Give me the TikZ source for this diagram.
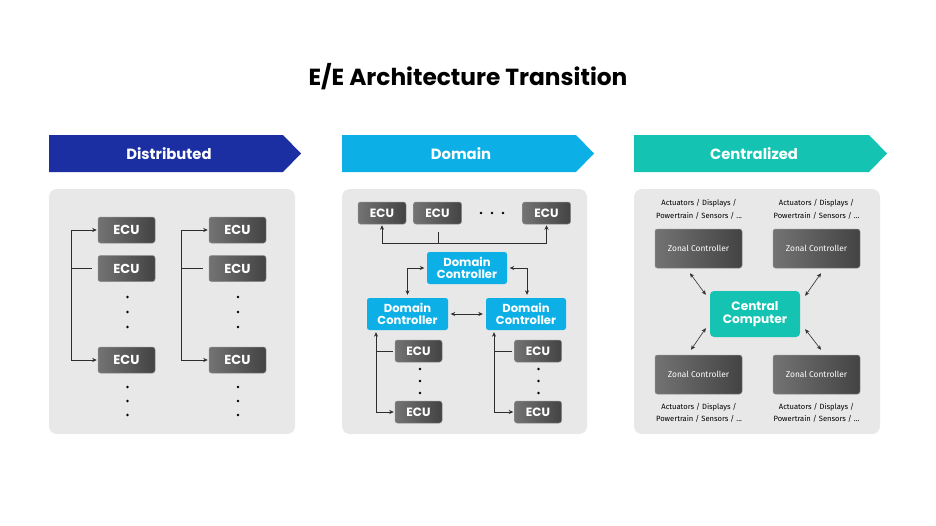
\documentclass[tikz,border=0pt]{standalone}
\usepackage{fontspec}
\setmainfont{Poppins}
\newfontfamily\smallsans{Fira Sans}
\usetikzlibrary{arrows.meta,calc}
\definecolor{bandA}{HTML}{1B2FA2}
\definecolor{bandB}{HTML}{0DB0E6}
\definecolor{bandC}{HTML}{14C3B1}
\definecolor{panelgray}{HTML}{E8E8E8}
\definecolor{ecuL}{HTML}{737373}
\definecolor{ecuR}{HTML}{434343}
\definecolor{ecuB}{HTML}{8A8A8A}
\definecolor{linegray}{HTML}{2E2E2E}
\tikzset{
  panel/.style={fill=panelgray, draw=none, rounded corners=8pt},
  bantext/.style={text=white, font=\bfseries\fontsize{14.8}{17}\selectfont, inner sep=0},
  ecu/.style={rounded corners=2.5pt, left color=ecuL, right color=ecuR, draw=ecuB, line width=0.5pt,
    minimum width=57, minimum height=26, inner sep=0, text=white, font=\bfseries\fontsize{13}{15}\selectfont},
  ecusm/.style={ecu, minimum width=47, minimum height=22, font=\bfseries\fontsize{12}{14}\selectfont},
  zonal/.style={ecu, minimum width=87, minimum height=39, font=\smallsans\fontsize{8.4}{10}\selectfont},
  dcbox/.style={rounded corners=2.5pt, fill=bandB, draw=none, minimum width=80, minimum height=32, inner sep=0,
    text=white, align=center, font=\bfseries\fontsize{11.6}{12}\selectfont},
  ccbox/.style={rounded corners=4pt, fill=bandC, draw=none, minimum width=90, minimum height=46, inner sep=0,
    text=white, align=center, font=\bfseries\fontsize{12.2}{13.5}\selectfont},
  conn/.style={draw=linegray, line width=0.6pt},
  bitip/.style={conn, {Stealth[length=4.5pt,width=4pt]}-{Stealth[length=4.5pt,width=4pt]}},
  dotc/.style={circle, fill=black, inner sep=0, minimum size=2.8pt},
  lbl/.style={font=\smallsans\fontsize{7.6}{12.5}\selectfont, inner sep=0, align=center, text=black},
}
\begin{document}
\begin{tikzpicture}[x=1pt,y=-1pt]
\useasboundingbox (0,0) rectangle (936,525);
\fill[white] (0,0) rectangle (936,525);

% title
\node[font=\bfseries\fontsize{23.3}{27}\selectfont, inner sep=0] (title) at (468,77) {E/E Architecture Transition};

% banners
\fill[bandA] (49,135) -- (283,135) -- (301,153.5) -- (283,172) -- (49,172) -- cycle;
\fill[bandB] (342,135) -- (576,135) -- (594,153.5) -- (576,172) -- (342,172) -- cycle;
\fill[bandC] (634,135) -- (869,135) -- (887,153.5) -- (869,172) -- (634,172) -- cycle;
\node[bantext] (bn1) at (169,153.5) {Distributed};
\node[bantext] (bn2) at (461,153.5) {Domain};
\node[bantext] (bn3) at (754,153.5) {Centralized};

% panels
\fill[panel] (49,189) rectangle (295,434);
\fill[panel] (342,189) rectangle (587,434);
\fill[panel] (634,189) rectangle (880,434);

% ---------- Distributed ----------
\node[ecu] (d1a) at (126.5,230) {ECU};
\node[ecu] (d1b) at (126.5,268.5) {ECU};
\node[ecu] (d1c) at (126.5,360) {ECU};
\node[ecu] (d2a) at (237.5,230) {ECU};
\node[ecu] (d2b) at (237.5,268.5) {ECU};
\node[ecu] (d2c) at (237.5,360) {ECU};
\coordinate (j1) at (71,0);
\coordinate (j2) at (181,0);
\draw[bitip, shorten <=1pt, shorten >=1pt] (d1a.west) -- (j1 |- d1a.west) -- (j1 |- d1c.west) -- (d1c.west);
\draw[conn] (j1 |- d1b.west) -- ($(d1b.west)+(-6,0)$);
\draw[bitip, shorten <=1pt, shorten >=1pt] (d2a.west) -- (j2 |- d2a.west) -- (j2 |- d2c.west) -- (d2c.west);
\draw[conn] (j2 |- d2b.west) -- ($(d2b.west)+(-6,0)$);
\foreach \yy [count=\i] in {297,312,327,387,401,415}{
  \node[dotc] (dl\i) at (127.5,\yy) {};
  \node[dotc] (dr\i) at (238,\yy) {};
}

% ---------- Domain ----------
\node[ecusm, minimum width=48] (e1) at (382,213) {ECU};
\node[ecusm, minimum width=48] (e2) at (437.5,213) {ECU};
\node[ecusm, minimum width=48] (e3) at (546.5,213) {ECU};
\foreach \xx [count=\i] in {481,492,503}{ \node[dotc] (ed\i) at (\xx,213) {}; }
\coordinate (bus) at (0,243);
\coordinate (busm) at (438,232);
\draw[bitip, shorten <=1pt, shorten >=1pt] (e1.south) -- (e1.south |- bus) -- (e3.south |- bus) -- (e3.south);
\draw[conn] (busm) -- (busm |- bus);

\node[dcbox] (dct) at (467,268) {Domain\\Controller};
\node[dcbox, minimum width=81] (dcl) at (407.5,314) {Domain\\Controller};
\node[dcbox] (dcr) at (526,314) {Domain\\Controller};
\draw[bitip, shorten <=2.5pt, shorten >=3pt] (dcl.east) -- (dcr.west);
\draw[bitip, shorten <=2.5pt, shorten >=3pt] (dct.west) -| (dcl.north);
\draw[bitip, shorten <=2.5pt, shorten >=3pt] (dct.east) -| ($(dcr.north)+(1,0)$);

\node[ecusm] (l1) at (418.5,351) {ECU};
\node[ecusm] (l2) at (418.5,412) {ECU};
\node[ecusm] (r1) at (538,351) {ECU};
\node[ecusm] (r2) at (538,412) {ECU};
\coordinate (jl) at (376,0);
\coordinate (jr) at (494,0);
\draw[bitip, shorten <=1pt, shorten >=2pt] (l2.west) -- (jl |- l2.west) -- (jl |- dcl.south);
\draw[conn] (jl |- l1.west) -- ($(l1.west)+(-2,0)$);
\draw[bitip, shorten <=1pt, shorten >=2pt] (r2.west) -- (jr |- r2.west) -- (jr |- dcr.south);
\draw[conn] (jr |- r1.west) -- ($(r1.west)+(-2,0)$);
\foreach \yy [count=\i] in {369,381,393}{
  \node[dotc] (ld\i) at (420,\yy) {};
  \node[dotc] (rd\i) at (538.5,\yy) {};
}

% ---------- Centralized ----------
\node[zonal] (ztl) at (698.5,248.5) {Zonal Controller};
\node[zonal] (ztr) at (816.5,248.5) {Zonal Controller};
\node[zonal] (zbl) at (698.5,374.5) {Zonal Controller};
\node[zonal] (zbr) at (816.5,374.5) {Zonal Controller};
\node[ccbox] (cc) at (755,314) {Central\\Computer};

\node[lbl] (ltl) at (699,209.5) {Actuators / Displays /\\Powertrain / Sensors / ...};
\node[lbl] (ltr) at (816.5,209.5) {Actuators / Displays /\\Powertrain / Sensors / ...};
\node[lbl] (lbl1) at (699,413) {Actuators / Displays /\\Powertrain / Sensors / ...};
\node[lbl] (lbr) at (816.5,413) {Actuators / Displays /\\Powertrain / Sensors / ...};

\draw[bitip] ($(ztl.south)+(-8.5,5)$) -- ($(cc.north west)+(-4,4)$);
\draw[bitip] ($(ztr.south)+(4.5,5)$) -- ($(cc.north east)+(5,5)$);
\draw[bitip] ($(cc.south west)+(-4,-9)$) -- ($(zbl.north)+(-7.5,-5)$);
\draw[bitip] ($(cc.south east)+(5,-8)$) -- ($(zbr.north)+(4.5,-5)$);
\end{tikzpicture}
\end{document}
